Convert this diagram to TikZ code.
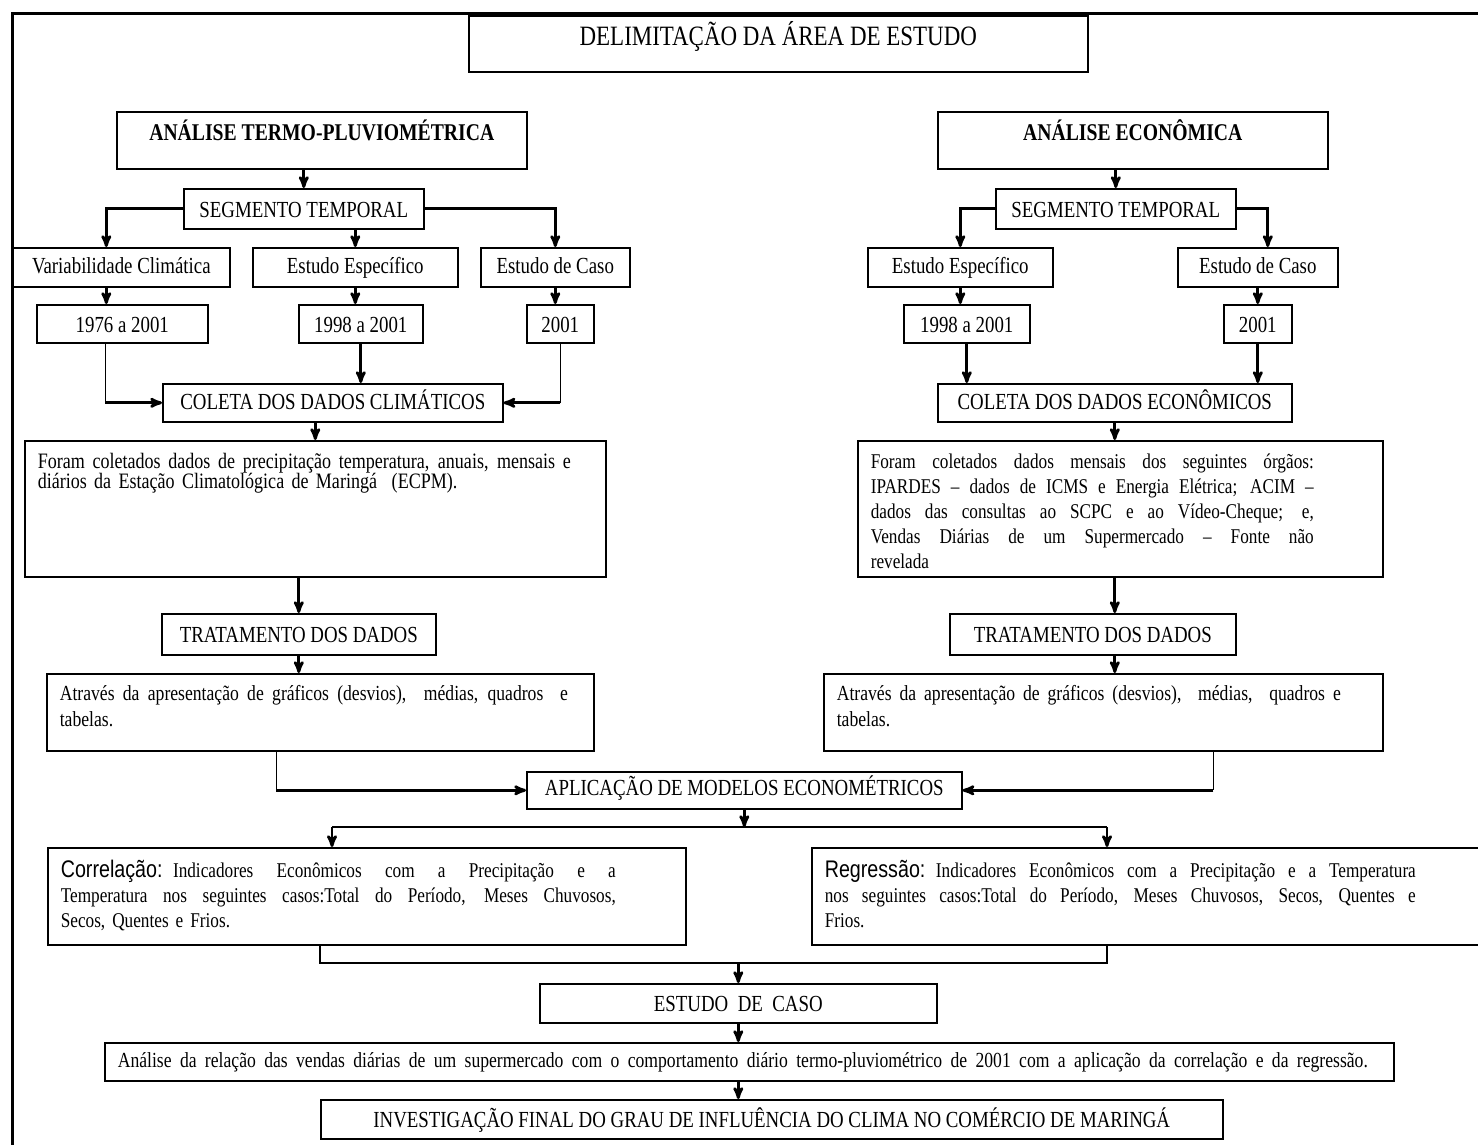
\documentclass[tikz,border=0pt]{standalone}
\usepackage{fontspec}
\setmainfont{Liberation Serif}[FakeStretch=0.82]
\setsansfont{Liberation Sans}[FakeStretch=0.82]
\usetikzlibrary{arrows}
\newcommand{\linhaj}[2]{\makebox[#1][s]{\spaceskip=\fontdimen2\font plus 1fil\relax #2}}% linha justificada
\tikzset{
  caixa/.style = {draw=black, line width=1.6pt, anchor=north west,
    inner xsep=12pt, inner ysep=0pt},
  rotulo/.style = {caixa, font=\fontsize{23}{27}\selectfont},% caixa de uma linha
  cabeca/.style = {caixa, font=\bfseries\fontsize{24}{28}\selectfont},% analise
  texto/.style = {caixa, align=left, inner xsep=13pt,
    font=\fontsize{21}{25}\selectfont},% caixa de texto
  seta/.style = {->, line width=2.8pt},
  linha/.style = {line width=1.5pt}
}
\begin{document}
\begin{tikzpicture}[>=stealth', x=1pt, y=-1pt]
  \useasboundingbox (0,0) rectangle (1478,1144);
  \draw[line width=3pt] (12,1150) -- (12,13) -- (1485,13);
  \node [rotulo, font=\fontsize{28}{32}\selectfont, minimum width=619pt,
         text height=30pt, text depth=26pt] (titulo) at (468,15)
        {DELIMITAÇÃO DA ÁREA DE ESTUDO};
  % termo-pluviometrica
  \node [cabeca, minimum width=410pt, text height=29pt, text depth=28pt]
        (an_t) at (116,111) {ANÁLISE TERMO-PLUVIOMÉTRICA};
  \node [rotulo, minimum width=240pt, text height=29pt, text depth=11pt]
        (seg_t) at (183,188) {SEGMENTO TEMPORAL};
  \node [rotulo, minimum width=217pt, text height=26pt, text depth=13pt]
        (var_c) at (12,247) {Variabilidade Climática};
  \node [rotulo, minimum width=205pt, text height=26pt, text depth=13pt]
        (esp_t) at (252,247) {Estudo Específico};
  \node [rotulo, minimum width=149pt, text height=26pt, text depth=13pt]
        (caso_t) at (480,247) {Estudo de Caso};
  \node [rotulo, minimum width=171pt, text height=28pt, text depth=10pt]
        (a1976) at (36,304) {1976 a 2001};
  \node [rotulo, minimum width=124pt, text height=28pt, text depth=10pt]
        (a1998_t) at (298,304) {1998 a 2001};
  \node [rotulo, minimum width=67pt, text height=28pt, text depth=10pt]
        (a2001_t) at (526,304) {2001};
  \node [rotulo, minimum width=340pt, text height=26pt, text depth=12pt]
        (col_t) at (162,383) {COLETA DOS DADOS CLIMÁTICOS};
  \node [texto, text width=555pt, text height=28pt, text depth=108pt,
         font=\fontsize{22}{20}\selectfont] (for_t) at (24,440)
        {\linhaj{533pt}{Foram coletados dados de precipitação temperatura, anuais, mensais e}\\
         diários da Estação Climatológica de Maringá~~(ECPM).};
  \node [rotulo, minimum width=274pt, text height=29pt, text depth=12pt]
        (trat_t) at (161,613) {TRATAMENTO DOS DADOS};
  \node [texto, text width=521pt, text height=27pt, text depth=50pt,
         font=\fontsize{21.5}{26}\selectfont] (atr_t) at (46,673)
        {\linhaj{508pt}{Através da apresentação de gráficos (desvios),~ médias, quadros~ e}\\
         tabelas.};
  % economica
  \node [cabeca, minimum width=390pt, text height=29pt, text depth=28pt]
        (an_e) at (937,111) {ANÁLISE ECONÔMICA};
  \node [rotulo, minimum width=240pt, text height=29pt, text depth=11pt]
        (seg_e) at (995,188) {SEGMENTO TEMPORAL};
  \node [rotulo, minimum width=185pt, text height=26pt, text depth=13pt]
        (esp_e) at (867,247) {Estudo Específico};
  \node [rotulo, minimum width=160pt, text height=26pt, text depth=13pt]
        (caso_e) at (1177,247) {Estudo de Caso};
  \node [rotulo, minimum width=126pt, text height=28pt, text depth=10pt]
        (a1998_e) at (903,304) {1998 a 2001};
  \node [rotulo, minimum width=68pt, text height=28pt, text depth=10pt]
        (a2001_e) at (1223,304) {2001};
  \node [rotulo, minimum width=354pt, text height=26pt, text depth=12pt]
        (col_e) at (937,383) {COLETA DOS DADOS ECONÔMICOS};
  \node [texto, text width=499pt, text height=28pt, text depth=108pt]
        (for_e) at (857,440)
        {\linhaj{443pt}{Foram coletados dados mensais dos seguintes órgãos:}\\
         \linhaj{443pt}{IPARDES – dados de ICMS e Energia Elétrica; ACIM –}\\
         \linhaj{443pt}{dados das consultas ao SCPC e ao Vídeo-Cheque; e,}\\
         \linhaj{443pt}{Vendas Diárias de um Supermercado – Fonte não}\\
         revelada};
  \node [rotulo, minimum width=286pt, text height=29pt, text depth=12pt]
        (trat_e) at (949,613) {TRATAMENTO DOS DADOS};
  \node [texto, text width=533pt, text height=27pt, text depth=50pt,
         font=\fontsize{21.5}{26}\selectfont] (atr_e) at (823,673)
        {\linhaj{504pt}{Através da apresentação de gráficos (desvios),~ médias,~ quadros e}\\
         tabelas.};
  % modelos
  \node [rotulo, minimum width=435pt, text height=24pt, text depth=13pt]
        (apl) at (526,771) {APLICAÇÃO DE MODELOS ECONOMÉTRICOS};
  \node [texto, text width=612pt, text height=30pt, text depth=67pt] (corr) at (47,847)
        {\linhaj{555pt}{{\sffamily\fontsize{24}{25}\selectfont Correlação:} Indicadores Econômicos com a Precipitação e a}\\
         \linhaj{555pt}{Temperatura nos seguintes casos:Total do Período, Meses Chuvosos,}\\
         Secos, Quentes e Frios.};
  \node [texto, text width=674pt, text height=30pt, text depth=67pt] (regr) at (811,847)
        {\linhaj{591pt}{{\sffamily\fontsize{24}{25}\selectfont Regressão:} Indicadores Econômicos com a Precipitação e a Temperatura}\\
         \linhaj{591pt}{nos seguintes casos:Total do Período, Meses Chuvosos, Secos, Quentes e}\\
         Frios.};
  \node [rotulo, minimum width=397pt, text height=28pt, text depth=11pt]
        (estudo) at (539,983) {ESTUDO~ DE~ CASO};
  \node [texto, text width=1263pt, text height=25pt, text depth=13pt,
         font=\fontsize{21.5}{25}\selectfont] (analise) at (104,1042)
        {\linhaj{1250pt}{Análise da relação das vendas diárias de um supermercado com o comportamento diário termo-pluviométrico de 2001 com a aplicação da correlação e da regressão.}};
  \node [rotulo, minimum width=902pt, text height=28pt, text depth=11pt]
        (invest) at (320,1099)
        {INVESTIGAÇÃO FINAL DO GRAU DE INFLUÊNCIA DO CLIMA NO COMÉRCIO DE MARINGÁ};
  \coordinate (ramo_e) at (332,827);
  \coordinate (ramo_d) at (1107,827);
  \coordinate (junta_e) at (320,963);
  \coordinate (junta_d) at (1107,963);
  % ligacoes esquerda
  \draw[seta] (an_t.south -| seg_t.north) -- (seg_t.north);
  \draw[seta] (seg_t.west) -| ([xshift=-15pt]var_c.north);
  \draw[seta] (seg_t.south -| esp_t.north) -- (esp_t.north);
  \draw[seta] (seg_t.east) -| (caso_t.north);
  \draw[seta] ([xshift=-15pt]var_c.south) -- ([xshift=-15pt]var_c.south |- a1976.north);
  \draw[seta] (esp_t.south) -- (esp_t.south |- a1998_t.north);
  \draw[seta] (caso_t.south) -- (caso_t.south |- a2001_t.north);
  \draw[linha] ([xshift=-17pt]a1976.south) -- ([xshift=-17pt]a1976.south |- col_t.west);
  \draw[seta] ([xshift=-17pt]a1976.south |- col_t.west) -- (col_t.west);
  \draw[seta] (a1998_t.south) -- (a1998_t.south |- col_t.north);
  \draw[linha] (a2001_t.south) -- (a2001_t.south |- col_t.east);
  \draw[seta] (a2001_t.south |- col_t.east) -- (col_t.east);
  \draw[seta] (col_t.south -| for_t.north) -- (for_t.north);
  \draw[seta] (for_t.south -| trat_t.north) -- (trat_t.north);
  \draw[seta] (trat_t.south) -- (trat_t.south |- atr_t.north);
  \draw[linha] ([xshift=-44pt]atr_t.south) -- ([xshift=-44pt]atr_t.south |- apl.west);
  \draw[seta] ([xshift=-44pt]atr_t.south |- apl.west) -- (apl.west);
  % ligacoes direita
  \draw[seta] (an_e.south -| seg_e.north) -- (seg_e.north);
  \draw[seta] (seg_e.west) -| (esp_e.north);
  \draw[seta] (seg_e.east) -| ([xshift=10pt]caso_e.north);
  \draw[seta] (esp_e.south) -- (esp_e.south |- a1998_e.north);
  \draw[seta] (caso_e.south) -- (caso_e.south |- a2001_e.north);
  \draw[seta] (a1998_e.south) -- (a1998_e.south |- col_e.north);
  \draw[seta] (a2001_e.south) -- (a2001_e.south |- col_e.north);
  \draw[seta] (col_e.south) -- (col_e.south |- for_e.north);
  \draw[seta] (for_e.south -| col_e.south) -- (col_e.south |- trat_e.north);
  \draw[seta] (trat_e.south -| col_e.south) -- (col_e.south |- atr_e.north);
  \draw[linha] ([xshift=110pt]atr_e.south) -- ([xshift=110pt]atr_e.south |- apl.east);
  \draw[seta] ([xshift=110pt]atr_e.south |- apl.east) -- (apl.east);
  % ligacoes inferiores
  \draw[seta] (apl.south) -- (apl.south |- ramo_e);
  \draw[linha] (ramo_e) -- (ramo_d);
  \draw[seta] (ramo_e) -- (ramo_e |- corr.north);
  \draw[seta] (ramo_d) -- (ramo_d |- regr.north);
  \draw[linha] (junta_e |- corr.south) -- (junta_e) -- (junta_d) -- (junta_d |- regr.south);
  \draw[seta] (junta_e -| estudo.north) -- (estudo.north);
  \draw[seta] (estudo.south) -- (estudo.south |- analise.north);
  \draw[seta] (estudo.south |- analise.south) -- (estudo.south |- invest.north);
\end{tikzpicture}
\end{document}
